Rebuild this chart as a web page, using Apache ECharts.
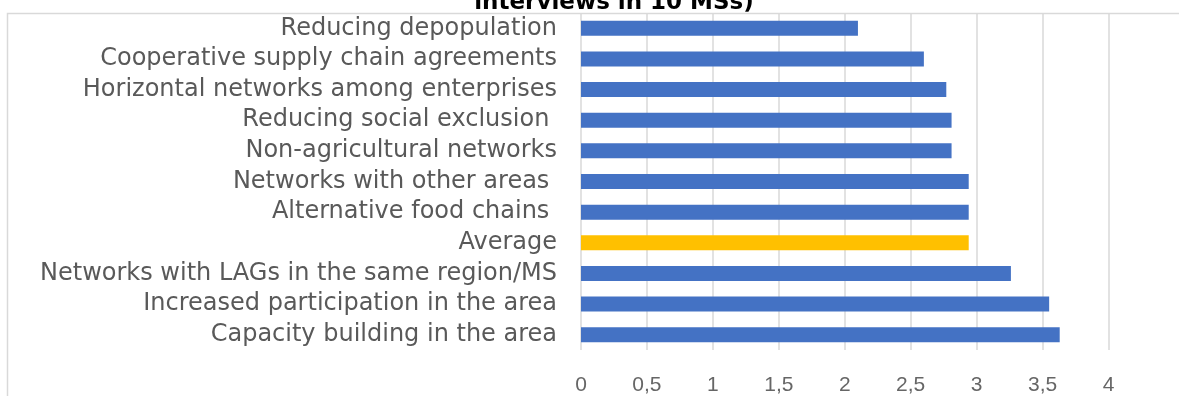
<!DOCTYPE html>
<html>
<head>
<meta charset="utf-8">
<style>
html,body{margin:0;padding:0;background:#fff;}
#chart{width:1179px;height:396px;}
</style>
<script src="https://cdn.jsdelivr.net/npm/echarts@6/dist/echarts.min.js"></script>
</head>
<body>
<div id="chart"></div>
<script>
// Categories top-to-bottom
var categories = [
  "Reducing depopulation",
  "Cooperative supply chain agreements",
  "Horizontal networks among enterprises",
  "Reducing social exclusion ",
  "Non-agricultural networks",
  "Networks with other areas ",
  "Alternative food chains ",
  "Average",
  "Networks with LAGs in the same region/MS",
  "Increased participation in the area",
  "Capacity building in the area"
];
var values = [2.10, 2.60, 2.77, 2.81, 2.81, 2.94, 2.94, 2.94, 3.26, 3.55, 3.63];
var highlight = "Average";
var xTicks = [0, 0.5, 1, 1.5, 2, 2.5, 3, 3.5, 4];
var titleText = "interviews in 10 MSs)";

var chart = echarts.init(document.getElementById('chart'));
chart.setOption({
  animation: false,
  title: {
    text: titleText,
    left: 609, top: -13, textAlign: 'center',
    textStyle: {fontFamily: 'DejaVu Sans', fontWeight: 'bold', fontSize: 23, color: '#000'}
  },
  graphic: [{
    type: 'rect', silent: true, z: -1,
    shape: {x: 7.5, y: 13.5, width: 1300, height: 500},
    style: {fill: 'none', stroke: '#d9d9d9', lineWidth: 1.5}
  }],
  grid: {left: 581, right: 70.5, top: 13, bottom: 42},
  xAxis: {
    type: 'value', min: xTicks[0], max: xTicks[xTicks.length - 1], interval: 0.5,
    axisLine: {show: false}, axisTick: {show: false},
    splitLine: {show: true, lineStyle: {color: '#d9d9d9', width: 1.5}},
    axisLabel: {
      margin: 25, color: '#666666', fontFamily: 'Liberation Sans', fontSize: 21,
      formatter: function (v) { return String(v).replace('.', ','); }
    }
  },
  yAxis: {
    type: 'category', data: categories, inverse: true,
    axisLine: {show: false}, axisTick: {show: false},
    axisLabel: {interval: 0, margin: 24, color: '#595959', fontFamily: 'DejaVu Sans', fontSize: 24}
  },
  series: [{
    type: 'bar', barWidth: 15,
    data: values.map(function (v, i) {
      return {value: v, itemStyle: {color: categories[i] === highlight ? '#FFC000' : '#4472C4'}};
    })
  }]
});
</script>
</body>
</html>
